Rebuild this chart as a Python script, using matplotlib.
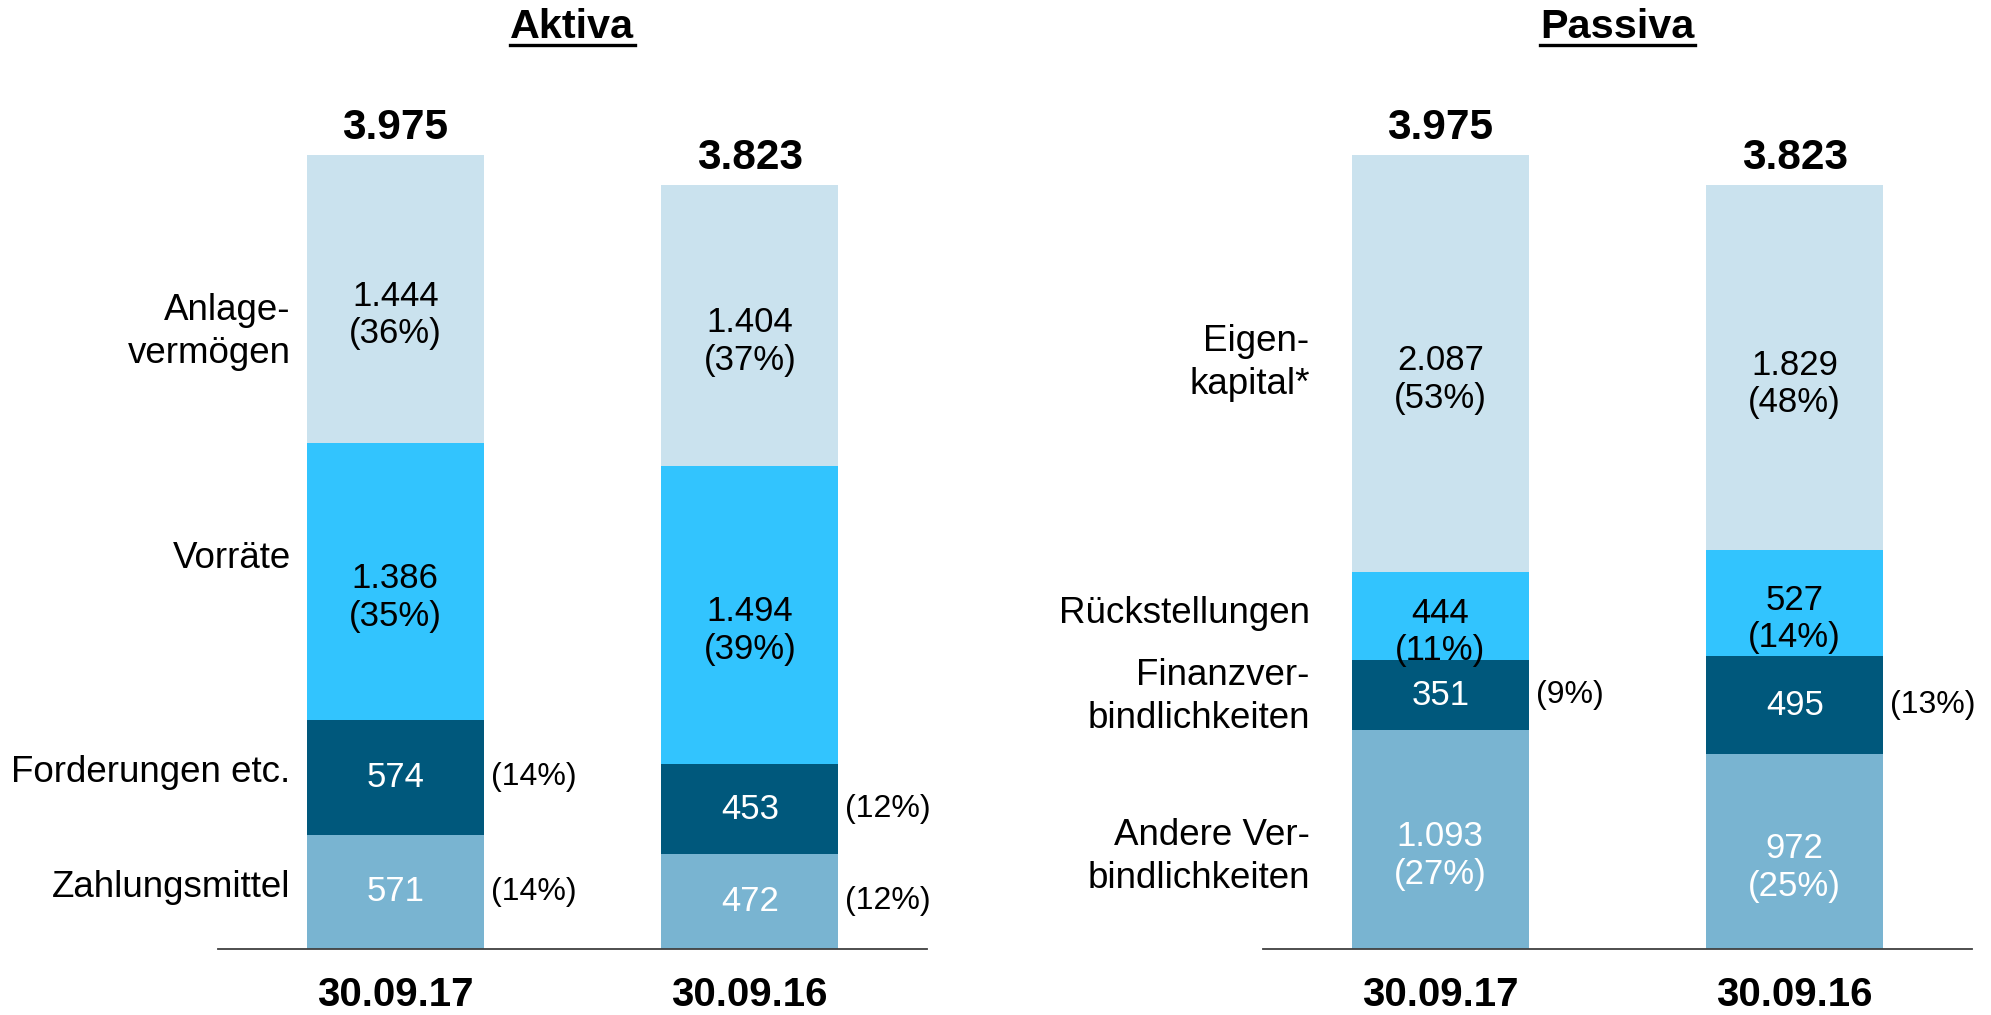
"""
Bilanzstruktur: Aktiva und Passiva als gestapelte Balken.
"""

import matplotlib.pyplot as plt
import numpy as np

plt.rcParams["font.family"] = ["Liberation Sans", "DejaVu Sans"]

dates = ["30.09.17", "30.09.16"]

# Aktiva (bottom to top)
aktiva_labels = ["Zahlungsmittel", "Forderungen etc.", "Vorräte", "Anlage-\nvermögen"]
zahlungsmittel = [571, 472]
forderungen = [574, 453]
vorraete = [1386, 1494]
anlagevermoegen = [1444, 1404]
aktiva_pct = [[14, 12], [14, 12], [35, 39], [36, 37]]
aktiva_total = [3975, 3823]

# Passiva (bottom to top)
passiva_labels = ["Andere Ver-\nbindlichkeiten", "Finanzver-\nbindlichkeiten",
                  "Rückstellungen", "Eigen-\nkapital*"]
andere_verb = [1093, 972]
finanz_verb = [351, 495]
rueckstellungen = [444, 527]
eigenkapital = [2087, 1829]
passiva_pct = [[27, 25], [9, 13], [11, 14], [53, 48]]
passiva_total = [3975, 3823]

colors = ["#79B4D1", "#00587C", "#32C4FE", "#CAE2EE"]
text_colors = ["white", "white", "black", "black"]

W, H, DPI = 1991, 1015, 100


def de(v):
    return f"{v:,}".replace(",", ".")


def draw_panel(ax, title, segments, pcts, totals, labels, outside, label_gap,
               label_nudge):
    x = np.arange(len(dates))
    width = 0.5
    bottom = np.zeros(len(dates))
    for i, seg in enumerate(segments):
        seg = np.array(seg, dtype=float)
        ax.bar(x, seg, width=width, bottom=bottom, color=colors[i],
               edgecolor="none")
        centers = bottom + seg / 2
        for j in range(len(dates)):
            if i in outside:
                ax.text(x[j], centers[j], de(int(seg[j])), ha="center",
                        va="center", fontsize=25, color=text_colors[i])
                ax.annotate(f"({pcts[i][j]}%)", (x[j] + width / 2, centers[j]),
                            xytext=(7, 0), textcoords="offset pixels",
                            ha="left", va="center", fontsize=23)
            else:
                ax.annotate(f"{de(int(seg[j]))}\n({pcts[i][j]}%)",
                            (x[j], centers[j]), xytext=(0, -16),
                            textcoords="offset pixels", ha="center",
                            va="center", fontsize=25, linespacing=1.18,
                            color=text_colors[i])
        # category label left of first bar
        ax.annotate(labels[i], (x[0] - width / 2, centers[0]),
                    xytext=(-label_gap, -label_nudge[i]),
                    textcoords="offset pixels", ha="right", va="center",
                    fontsize=26.5, linespacing=1.3, multialignment="right")
        bottom += seg

    for j, t in enumerate(totals):
        ax.annotate(de(t), (x[j], t), xytext=(0, 16), textcoords="offset pixels",
                    ha="center", va="baseline", fontsize=30.5, fontweight="bold")

    ax.set_xlim(-0.5, 1.5)
    ax.set_ylim(0, 4500)
    ax.set_xticks(x)
    ax.set_xticklabels(dates, fontsize=29, fontweight="bold")
    ax.tick_params(axis="x", length=0, pad=20)
    ax.set_yticks([])
    for s in ["top", "left", "right"]:
        ax.spines[s].set_visible(False)
    ax.spines["bottom"].set_color("#404040")
    ax.spines["bottom"].set_linewidth(1.3)

    # underlined title
    fig = ax.figure
    pos = ax.get_position()
    cx = pos.x0 + pos.width / 2
    t = fig.text(cx, 1 - 38 / H, title, ha="center", va="baseline",
                 fontsize=29.8, fontweight="bold")
    fig.canvas.draw()
    bb = t.get_window_extent().transformed(fig.transFigure.inverted())
    yl = 1 - 45 / H
    fig.add_artist(plt.Line2D([bb.x0, bb.x1], [yl, yl], color="black",
                              linewidth=2.4, transform=fig.transFigure))


fig = plt.figure(figsize=(W / DPI, H / DPI), dpi=DPI)
ax_bottom = 1 - 948.5 / H
ax_height = 4500 * 0.19962 / H
ax1 = fig.add_axes([218 / W, ax_bottom, 709 / W, ax_height])
ax2 = fig.add_axes([1263 / W, ax_bottom, 709 / W, ax_height])

draw_panel(ax1, "Aktiva",
           [zahlungsmittel, forderungen, vorraete, anlagevermoegen],
           aktiva_pct, aktiva_total, aktiva_labels, outside=[0, 1],
           label_gap=16, label_nudge=[-4, -5, -23, 33])
draw_panel(ax2, "Passiva",
           [andere_verb, finanz_verb, rueckstellungen, eigenkapital],
           passiva_pct, passiva_total, passiva_labels, outside=[1],
           label_gap=42, label_nudge=[18, 2, -2, 0])

fig.savefig("out.png", dpi=DPI)
